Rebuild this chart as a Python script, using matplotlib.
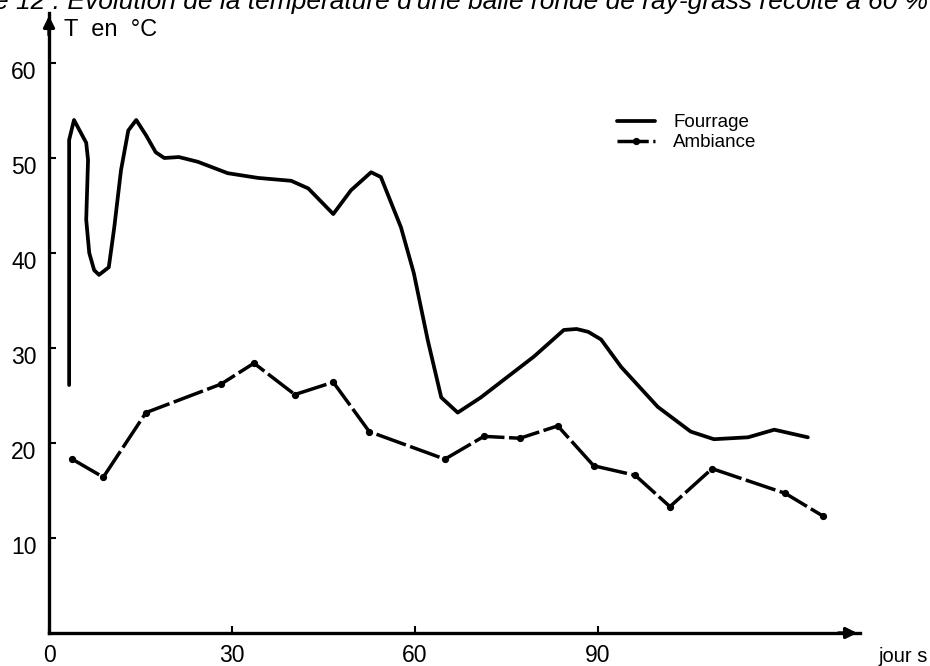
import matplotlib
matplotlib.use("Agg")
import matplotlib.pyplot as plt
import matplotlib.transforms as mtransforms

# ---- data (days, °C) ----
fourrage_days = [3.3, 3.3, 4.1, 6.1, 6.4, 6.1, 6.6, 7.4, 8.2, 9.8, 10.7, 11.8, 13.0,
                 14.3, 15.9, 17.5, 18.9, 21.3, 24.4, 29.3, 34.3, 39.7, 42.5, 46.6,
                 49.5, 52.8, 54.4, 57.7, 59.8, 62.1, 64.3, 67.0, 70.8, 79.5, 84.4,
                 86.5, 88.4, 90.5, 93.8, 99.8, 105.2, 109.0, 114.6, 118.9, 124.4]
fourrage_temp = [26.1, 51.9, 54.0, 51.6, 49.8, 43.5, 40.0, 38.2, 37.7, 38.5, 42.7,
                 48.7, 52.9, 54.0, 52.4, 50.6, 50.0, 50.1, 49.6, 48.4, 47.9, 47.6,
                 46.8, 44.1, 46.6, 48.5, 48.0, 42.7, 37.9, 30.8, 24.8, 23.2, 24.8,
                 29.1, 31.9, 32.0, 31.7, 30.9, 28.0, 23.8, 21.2, 20.4, 20.6, 21.4, 20.6]

ambiance_days = [3.8, 8.9, 15.9, 28.2, 33.6, 40.3, 46.6, 52.5, 64.9, 71.3, 77.2,
                 83.4, 89.3, 96.1, 101.8, 108.7, 120.7, 126.9]
ambiance_temp = [18.3, 16.4, 23.2, 26.2, 28.4, 25.1, 26.4, 21.2, 18.3, 20.7, 20.5,
                 21.8, 17.6, 16.6, 13.3, 17.3, 14.7, 12.3]

x_ticks = [0, 30, 60, 90]
y_ticks = [10, 20, 30, 40, 50, 60]
series_labels = ["Fourrage", "Ambiance"]
title_text = "e 12 : Evolution de la température d'une balle ronde de ray-grass récolté à 60 %"
y_label = "T  en  °C"
x_label = "jour s"

W, H = 930, 666
fig = plt.figure(figsize=(W / 100, H / 100), dpi=100)
fig.patch.set_facecolor("white")

sans = ["Liberation Sans", "DejaVu Sans"]

# axes placement in pixels
left_px, right_px, bottom_px, top_px = 49, 860, 633, 13
ax = fig.add_axes([left_px / W, 1 - bottom_px / H,
                   (right_px - left_px) / W, (bottom_px - top_px) / H])
ax.set_xlim(0, (right_px - left_px) / 6.1)
ax.set_ylim(0, (bottom_px - top_px) / 9.5)

for s in ["top", "right"]:
    ax.spines[s].set_visible(False)
for s in ["left", "bottom"]:
    ax.spines[s].set_linewidth(2.4)
    ax.spines[s].set_color("black")

ax.plot(fourrage_days, fourrage_temp, color="black", lw=2.7,
        solid_joinstyle="round", solid_capstyle="round", label=series_labels[0])
ax.plot(ambiance_days, ambiance_temp, color="black", lw=2.5,
        linestyle=(0, (9, 1.3)), marker="o", ms=4.2, label=series_labels[1])

ax.set_xticks(x_ticks)
ax.set_yticks(y_ticks)
ax.tick_params(axis="both", direction="in", length=5, width=1.5,
               labelsize=16.5, colors="black")
ax.tick_params(axis="y", pad=9)
ax.tick_params(axis="x", pad=8)
for lab in ax.get_xticklabels() + ax.get_yticklabels():
    lab.set_family(sans)
off = mtransforms.ScaledTranslation(0, -7 / 100, fig.dpi_scale_trans)
for lab in ax.get_yticklabels():
    lab.set_transform(lab.get_transform() + off)

# arrows at the axis ends
ax.annotate("", xy=(0, 1.0), xycoords="axes fraction", xytext=(0, 0.96),
            arrowprops=dict(arrowstyle="-|>", color="black", lw=2.4,
                            mutation_scale=16))
ax.annotate("", xy=(1.0, 0), xycoords="axes fraction", xytext=(0.97, 0),
            arrowprops=dict(arrowstyle="-|>", color="black", lw=2.4,
                            mutation_scale=16))

# axis labels
fig.text(64 / W, 1 - 30 / H, y_label, ha="left", va="center",
         fontsize=17, family=sans)
fig.text(878 / W, 1 - 657 / H, x_label, ha="left", va="center",
         fontsize=14.5, family=sans)

# cut title at top
fig.text(-6 / W, 1 - 9 / H, title_text, ha="left", va="baseline",
         fontsize=19, style="italic", family=sans)

leg = ax.legend(loc="upper left", bbox_to_anchor=(617 / W, 1 - 114 / H),
                bbox_transform=fig.transFigure, frameon=False, borderpad=0,
                borderaxespad=0, handlelength=2.0, handletextpad=1.0,
                labelspacing=0.15, numpoints=1, prop={"family": sans, "size": 13.5})

fig.savefig("out.png", dpi=100, facecolor="white")
